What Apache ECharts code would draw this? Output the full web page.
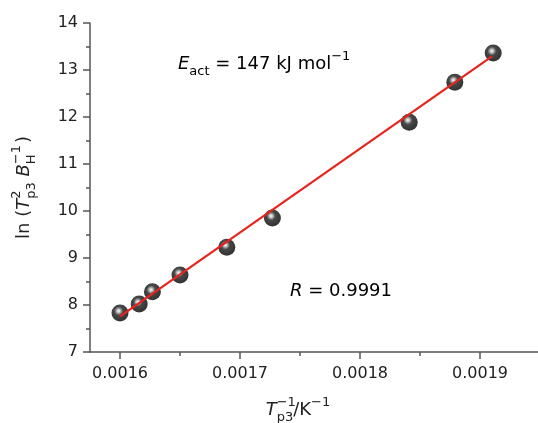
<!DOCTYPE html>
<html>
<head>
<meta charset="utf-8">
<script src="https://cdn.jsdelivr.net/npm/echarts@6/dist/echarts.min.js"></script>
<style>
  html, body { margin: 0; padding: 0; background: #fff; }
  #main { width: 538px; height: 423px; }
</style>
</head>
<body>
<div id="main"></div>
<script>
  // measured points (1/Tp3, ln(Tp3^2/BH))
  var xVals = [0.0016, 0.001616, 0.001627, 0.00165, 0.001689, 0.001727, 0.001841, 0.001879, 0.001911]
  var yVals = [7.83, 8.02, 8.28, 8.64, 9.23, 9.85, 11.89, 12.74, 13.36]
  // fitted line ends
  var fitX = [0.0016, 0.00191]
  var fitY = [7.76, 13.29]
  // tick labels
  var xTicks = [0.0016, 0.0017, 0.0018, 0.0019]
  var xMinor = [0.00165, 0.00175, 0.00185]

  var points = xVals.map(function (x, i) { return [x, yVals[i]] })
  var fit = fitX.map(function (x, i) { return [x, fitY[i]] })

  var font = 'DejaVu Sans, sans-serif'
  var axisColor = '#555'
  var txt = '#222'

  // rich text pieces, all left aligned so a zero-width superscript sits over its subscript
  function richSet(size, small) {
    return {
      it: { fontSize: size, fontFamily: font, color: txt, fontStyle: 'italic', lineHeight: 26, align: 'left' },
      b: { fontSize: size, fontFamily: font, color: txt, lineHeight: 26, align: 'left' },
      sub: { fontSize: small, fontFamily: font, color: txt, verticalAlign: 'bottom', lineHeight: 28, align: 'left' },
      sup: { fontSize: small, fontFamily: font, color: txt, verticalAlign: 'top', lineHeight: 20, align: 'left' },
      sup0: { fontSize: small, fontFamily: font, color: txt, verticalAlign: 'top', lineHeight: 20, align: 'left', width: 0 }
    }
  }

  var myChart = echarts.init(document.getElementById('main'))
  myChart.setOption({
    backgroundColor: '#fff',
    animation: false,
    grid: { left: 90, top: 23, width: 450, height: 329, containLabel: false, outerBoundsMode: 'none' },
    xAxis: [{
      type: 'value',
      min: 0.001575,
      max: 0.00195,
      axisLine: { show: true, lineStyle: { color: axisColor, width: 1.5 } },
      axisTick: { show: true, customValues: xTicks, length: 7, lineStyle: { color: axisColor, width: 1.5 } },
      axisLabel: {
        customValues: xTicks,
        margin: 14,
        fontSize: 16,
        fontFamily: font,
        color: txt,
        formatter: function (v) { return v.toFixed(4) }
      },
      splitLine: { show: false },
      name: '{it|T}{sup0|−1}{sub|p3}{b|/K}{sup|−1}',
      nameLocation: 'middle',
      nameGap: 44,
      nameTextStyle: { rich: richSet(18, 13), padding: [0, 34, 0, 0] }
    }, {
      type: 'value',
      min: 0.001575,
      max: 0.00195,
      axisLine: { show: false },
      axisTick: { show: true, customValues: xMinor, length: 4, lineStyle: { color: axisColor, width: 1.5 } },
      axisLabel: { show: false },
      splitLine: { show: false },
      position: 'bottom'
    }],
    yAxis: {
      type: 'value',
      min: 7,
      max: 14,
      interval: 1,
      axisLine: { show: true, lineStyle: { color: axisColor, width: 1.5 } },
      axisTick: { show: true, length: 7, lineStyle: { color: axisColor, width: 1.5 } },
      minorTick: { show: true, splitNumber: 2, length: 4, lineStyle: { color: axisColor, width: 1.5 } },
      axisLabel: { margin: 12, fontSize: 16, fontFamily: font, color: txt },
      splitLine: { show: false },
      name: '{b|ln (}{it|T}{sup0|2}{sub|p3}{b| }{it|B}{sup0|−1}{sub|H}{b|  )}',
      nameLocation: 'middle',
      nameRotate: 90,
      nameGap: 52,
      nameTextStyle: { rich: richSet(18, 13) }
    },
    graphic: [{
      type: 'text',
      left: 178,
      top: 50,
      style: {
        text: '{it|E}{sub|act}{b| = 147 kJ mol}{sup|−1}',
        rich: richSet(18, 13)
      }
    }, {
      type: 'text',
      left: 290,
      top: 282,
      style: {
        text: '{it|R}{b| = 0.9991}',
        rich: richSet(18, 13)
      }
    }],
    series: [{
      type: 'scatter',
      data: points,
      symbolSize: 17,
      z: 2,
      itemStyle: {
        color: {
          type: 'radial', x: 0.42, y: 0.38, r: 0.6,
          colorStops: [
            { offset: 0, color: '#ffffff' },
            { offset: 0.18, color: '#aaaaaa' },
            { offset: 0.42, color: '#1a1a1a' },
            { offset: 1, color: '#000000' }
          ]
        }
      }
    }, {
      type: 'line',
      data: fit,
      symbol: 'none',
      z: 3,
      lineStyle: { color: '#e8231c', width: 2.2 }
    }]
  })
</script>
</body>
</html>
